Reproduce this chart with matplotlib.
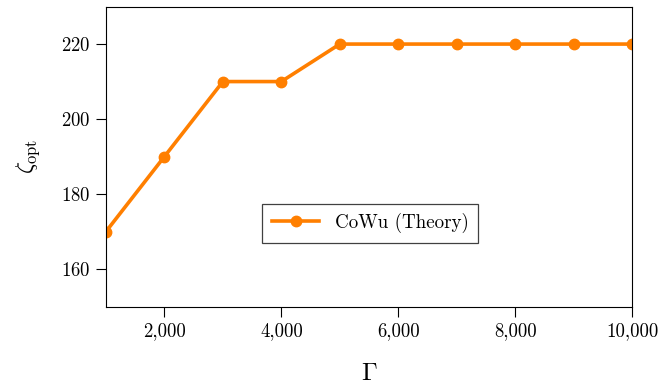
import matplotlib
matplotlib.use("Agg")
from matplotlib import pyplot as plt

gamma = [1000, 2000, 3000, 4000, 5000, 6000, 7000, 8000, 9000, 10000]
zeta_opt = [170, 190, 210, 210, 220, 220, 220, 220, 220, 220]

x_ticks = [2000, 4000, 6000, 8000, 10000]
x_ticklabels = ["2,000", "4,000", "6,000", "8,000", "10,000"]
y_ticks = [160, 180, 200, 220]

plt.rcParams["mathtext.fontset"] = "cm"
plt.rcParams["font.family"] = "cmr10"
plt.rcParams["axes.formatter.use_mathtext"] = True

fig = plt.figure(figsize=(6.65, 3.87), dpi=100)
ax = fig.add_axes([0.1594, 0.208, 0.791, 0.775])

ax.plot(gamma, zeta_opt, color="#ff7f00", lw=2.6, marker="o", ms=7.5,
        label="CoWu (Theory)")

ax.set_xlim(1000, 10000)
ax.set_ylim(150, 230)
ax.set_xticks(x_ticks)
ax.set_xticklabels(x_ticklabels)
ax.set_yticks(y_ticks)
ax.tick_params(direction="out", length=7, width=0.8, labelsize=13.5,
               pad=4, top=False, right=False)
for s in ax.spines.values():
    s.set_linewidth(0.8)

ax.set_xlabel(r"$\Gamma$", fontsize=18, labelpad=17)
ax.set_ylabel(r"$\zeta_{\mathrm{opt}}$", fontsize=17, labelpad=14)

leg = ax.legend(loc="center", bbox_to_anchor=(0.502, 0.278), fontsize=13.7,
                fancybox=False, framealpha=1, edgecolor="#404040",
                handlelength=2.5, borderpad=0.5)
leg.get_frame().set_linewidth(0.9)

fig.savefig("out.png", dpi=100)
